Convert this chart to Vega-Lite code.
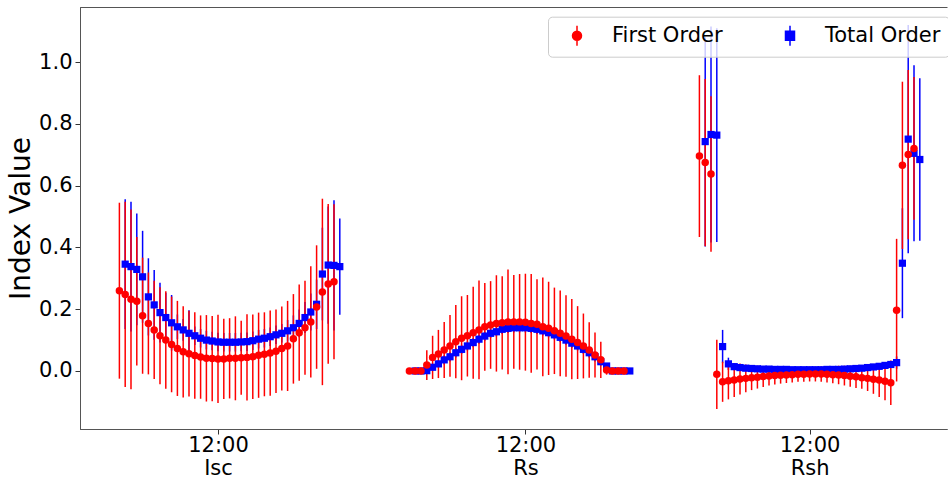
{
  "$schema": "https://vega.github.io/schema/vega-lite/v6.json",
  "width": 867,
  "height": 422,
  "autosize": {"type": "none"},
  "padding": {"left": 80, "top": 7, "right": 1, "bottom": 50},
  "background": "white",
  "config": {
    "font": "DejaVu Sans",
    "view": {"stroke": "#555", "strokeWidth": 1, "strokeDash": [867, 422, 3000]},
    "axis": {"domainColor": "#555", "domainWidth": 1, "tickColor": "#333", "labelColor": "#000", "titleColor": "#000", "labelFont": "DejaVu Sans", "titleFont": "DejaVu Sans", "grid": false, "labelFontSize": 21, "tickSize": 5}
  },
  "data": {
    "values": [
      {"group": "Isc", "series": "First Order", "t": 7.75, "v": 0.260, "err": 0.285},
      {"group": "Isc", "series": "First Order", "t": 8.00, "v": 0.248, "err": 0.300},
      {"group": "Isc", "series": "First Order", "t": 8.25, "v": 0.232, "err": 0.291},
      {"group": "Isc", "series": "First Order", "t": 8.50, "v": 0.226, "err": 0.208},
      {"group": "Isc", "series": "First Order", "t": 8.75, "v": 0.179, "err": 0.188},
      {"group": "Isc", "series": "First Order", "t": 9.00, "v": 0.154, "err": 0.165},
      {"group": "Isc", "series": "First Order", "t": 9.25, "v": 0.133, "err": 0.159},
      {"group": "Isc", "series": "First Order", "t": 9.50, "v": 0.114, "err": 0.157},
      {"group": "Isc", "series": "First Order", "t": 9.75, "v": 0.100, "err": 0.158},
      {"group": "Isc", "series": "First Order", "t": 10.00, "v": 0.086, "err": 0.155},
      {"group": "Isc", "series": "First Order", "t": 10.25, "v": 0.073, "err": 0.154},
      {"group": "Isc", "series": "First Order", "t": 10.50, "v": 0.062, "err": 0.148},
      {"group": "Isc", "series": "First Order", "t": 10.75, "v": 0.056, "err": 0.139},
      {"group": "Isc", "series": "First Order", "t": 11.00, "v": 0.050, "err": 0.140},
      {"group": "Isc", "series": "First Order", "t": 11.25, "v": 0.045, "err": 0.135},
      {"group": "Isc", "series": "First Order", "t": 11.50, "v": 0.041, "err": 0.140},
      {"group": "Isc", "series": "First Order", "t": 11.75, "v": 0.040, "err": 0.138},
      {"group": "Isc", "series": "First Order", "t": 12.00, "v": 0.039, "err": 0.143},
      {"group": "Isc", "series": "First Order", "t": 12.25, "v": 0.039, "err": 0.130},
      {"group": "Isc", "series": "First Order", "t": 12.50, "v": 0.041, "err": 0.130},
      {"group": "Isc", "series": "First Order", "t": 12.75, "v": 0.041, "err": 0.136},
      {"group": "Isc", "series": "First Order", "t": 13.00, "v": 0.043, "err": 0.120},
      {"group": "Isc", "series": "First Order", "t": 13.25, "v": 0.044, "err": 0.140},
      {"group": "Isc", "series": "First Order", "t": 13.50, "v": 0.046, "err": 0.137},
      {"group": "Isc", "series": "First Order", "t": 13.75, "v": 0.051, "err": 0.138},
      {"group": "Isc", "series": "First Order", "t": 14.00, "v": 0.054, "err": 0.136},
      {"group": "Isc", "series": "First Order", "t": 14.25, "v": 0.058, "err": 0.138},
      {"group": "Isc", "series": "First Order", "t": 14.50, "v": 0.064, "err": 0.135},
      {"group": "Isc", "series": "First Order", "t": 14.75, "v": 0.073, "err": 0.136},
      {"group": "Isc", "series": "First Order", "t": 15.00, "v": 0.081, "err": 0.146},
      {"group": "Isc", "series": "First Order", "t": 15.25, "v": 0.104, "err": 0.145},
      {"group": "Isc", "series": "First Order", "t": 15.50, "v": 0.124, "err": 0.156},
      {"group": "Isc", "series": "First Order", "t": 15.75, "v": 0.140, "err": 0.152},
      {"group": "Isc", "series": "First Order", "t": 16.00, "v": 0.159, "err": 0.180},
      {"group": "Isc", "series": "First Order", "t": 16.25, "v": 0.207, "err": 0.200},
      {"group": "Isc", "series": "First Order", "t": 16.50, "v": 0.256, "err": 0.302},
      {"group": "Isc", "series": "First Order", "t": 16.75, "v": 0.282, "err": 0.259},
      {"group": "Isc", "series": "First Order", "t": 17.00, "v": 0.289, "err": 0.251},
      {"group": "Isc", "series": "Total Order", "t": 8.00, "v": 0.346, "err": 0.210},
      {"group": "Isc", "series": "Total Order", "t": 8.25, "v": 0.338, "err": 0.210},
      {"group": "Isc", "series": "Total Order", "t": 8.50, "v": 0.329, "err": 0.181},
      {"group": "Isc", "series": "Total Order", "t": 8.75, "v": 0.305, "err": 0.149},
      {"group": "Isc", "series": "Total Order", "t": 9.00, "v": 0.240, "err": 0.125},
      {"group": "Isc", "series": "Total Order", "t": 9.25, "v": 0.214, "err": 0.113},
      {"group": "Isc", "series": "Total Order", "t": 9.50, "v": 0.189, "err": 0.097},
      {"group": "Isc", "series": "Total Order", "t": 9.75, "v": 0.173, "err": 0.080},
      {"group": "Isc", "series": "Total Order", "t": 10.00, "v": 0.156, "err": 0.090},
      {"group": "Isc", "series": "Total Order", "t": 10.25, "v": 0.143, "err": 0.040},
      {"group": "Isc", "series": "Total Order", "t": 10.50, "v": 0.133, "err": 0.035},
      {"group": "Isc", "series": "Total Order", "t": 10.75, "v": 0.122, "err": 0.075},
      {"group": "Isc", "series": "Total Order", "t": 11.00, "v": 0.114, "err": 0.030},
      {"group": "Isc", "series": "Total Order", "t": 11.25, "v": 0.106, "err": 0.030},
      {"group": "Isc", "series": "Total Order", "t": 11.50, "v": 0.100, "err": 0.030},
      {"group": "Isc", "series": "Total Order", "t": 11.75, "v": 0.097, "err": 0.030},
      {"group": "Isc", "series": "Total Order", "t": 12.00, "v": 0.094, "err": 0.030},
      {"group": "Isc", "series": "Total Order", "t": 12.25, "v": 0.093, "err": 0.030},
      {"group": "Isc", "series": "Total Order", "t": 12.50, "v": 0.093, "err": 0.030},
      {"group": "Isc", "series": "Total Order", "t": 12.75, "v": 0.093, "err": 0.030},
      {"group": "Isc", "series": "Total Order", "t": 13.00, "v": 0.094, "err": 0.030},
      {"group": "Isc", "series": "Total Order", "t": 13.25, "v": 0.095, "err": 0.030},
      {"group": "Isc", "series": "Total Order", "t": 13.50, "v": 0.098, "err": 0.030},
      {"group": "Isc", "series": "Total Order", "t": 13.75, "v": 0.103, "err": 0.030},
      {"group": "Isc", "series": "Total Order", "t": 14.00, "v": 0.106, "err": 0.030},
      {"group": "Isc", "series": "Total Order", "t": 14.25, "v": 0.111, "err": 0.030},
      {"group": "Isc", "series": "Total Order", "t": 14.50, "v": 0.117, "err": 0.030},
      {"group": "Isc", "series": "Total Order", "t": 14.75, "v": 0.122, "err": 0.030},
      {"group": "Isc", "series": "Total Order", "t": 15.00, "v": 0.130, "err": 0.035},
      {"group": "Isc", "series": "Total Order", "t": 15.25, "v": 0.140, "err": 0.040},
      {"group": "Isc", "series": "Total Order", "t": 15.50, "v": 0.154, "err": 0.045},
      {"group": "Isc", "series": "Total Order", "t": 15.75, "v": 0.173, "err": 0.050},
      {"group": "Isc", "series": "Total Order", "t": 16.00, "v": 0.191, "err": 0.060},
      {"group": "Isc", "series": "Total Order", "t": 16.25, "v": 0.216, "err": 0.080},
      {"group": "Isc", "series": "Total Order", "t": 16.50, "v": 0.314, "err": 0.150},
      {"group": "Isc", "series": "Total Order", "t": 16.75, "v": 0.343, "err": 0.190},
      {"group": "Isc", "series": "Total Order", "t": 17.00, "v": 0.342, "err": 0.211},
      {"group": "Isc", "series": "Total Order", "t": 17.25, "v": 0.338, "err": 0.156},
      {"group": "Rs", "series": "First Order", "t": 20.25, "v": 0.000, "err": 0.000},
      {"group": "Rs", "series": "First Order", "t": 20.50, "v": 0.000, "err": 0.000},
      {"group": "Rs", "series": "First Order", "t": 20.75, "v": 0.000, "err": 0.000},
      {"group": "Rs", "series": "First Order", "t": 21.00, "v": 0.019, "err": 0.048},
      {"group": "Rs", "series": "First Order", "t": 21.25, "v": 0.044, "err": 0.070},
      {"group": "Rs", "series": "First Order", "t": 21.50, "v": 0.055, "err": 0.078},
      {"group": "Rs", "series": "First Order", "t": 21.75, "v": 0.068, "err": 0.091},
      {"group": "Rs", "series": "First Order", "t": 22.00, "v": 0.081, "err": 0.100},
      {"group": "Rs", "series": "First Order", "t": 22.25, "v": 0.095, "err": 0.119},
      {"group": "Rs", "series": "First Order", "t": 22.50, "v": 0.106, "err": 0.136},
      {"group": "Rs", "series": "First Order", "t": 22.75, "v": 0.114, "err": 0.132},
      {"group": "Rs", "series": "First Order", "t": 23.00, "v": 0.124, "err": 0.149},
      {"group": "Rs", "series": "First Order", "t": 23.25, "v": 0.133, "err": 0.160},
      {"group": "Rs", "series": "First Order", "t": 23.50, "v": 0.143, "err": 0.142},
      {"group": "Rs", "series": "First Order", "t": 23.75, "v": 0.149, "err": 0.142},
      {"group": "Rs", "series": "First Order", "t": 24.00, "v": 0.154, "err": 0.156},
      {"group": "Rs", "series": "First Order", "t": 24.25, "v": 0.156, "err": 0.151},
      {"group": "Rs", "series": "First Order", "t": 24.50, "v": 0.159, "err": 0.170},
      {"group": "Rs", "series": "First Order", "t": 24.75, "v": 0.159, "err": 0.152},
      {"group": "Rs", "series": "First Order", "t": 25.00, "v": 0.159, "err": 0.155},
      {"group": "Rs", "series": "First Order", "t": 25.25, "v": 0.158, "err": 0.157},
      {"group": "Rs", "series": "First Order", "t": 25.50, "v": 0.154, "err": 0.160},
      {"group": "Rs", "series": "First Order", "t": 25.75, "v": 0.151, "err": 0.146},
      {"group": "Rs", "series": "First Order", "t": 26.00, "v": 0.143, "err": 0.160},
      {"group": "Rs", "series": "First Order", "t": 26.25, "v": 0.138, "err": 0.151},
      {"group": "Rs", "series": "First Order", "t": 26.50, "v": 0.130, "err": 0.140},
      {"group": "Rs", "series": "First Order", "t": 26.75, "v": 0.122, "err": 0.139},
      {"group": "Rs", "series": "First Order", "t": 27.00, "v": 0.113, "err": 0.132},
      {"group": "Rs", "series": "First Order", "t": 27.25, "v": 0.103, "err": 0.130},
      {"group": "Rs", "series": "First Order", "t": 27.50, "v": 0.092, "err": 0.118},
      {"group": "Rs", "series": "First Order", "t": 27.75, "v": 0.081, "err": 0.105},
      {"group": "Rs", "series": "First Order", "t": 28.00, "v": 0.068, "err": 0.090},
      {"group": "Rs", "series": "First Order", "t": 28.25, "v": 0.052, "err": 0.073},
      {"group": "Rs", "series": "First Order", "t": 28.50, "v": 0.036, "err": 0.059},
      {"group": "Rs", "series": "First Order", "t": 28.75, "v": 0.003, "err": 0.015},
      {"group": "Rs", "series": "First Order", "t": 29.00, "v": 0.000, "err": 0.000},
      {"group": "Rs", "series": "First Order", "t": 29.25, "v": 0.000, "err": 0.000},
      {"group": "Rs", "series": "First Order", "t": 29.50, "v": 0.000, "err": 0.000},
      {"group": "Rs", "series": "Total Order", "t": 20.50, "v": 0.000, "err": 0.000},
      {"group": "Rs", "series": "Total Order", "t": 20.75, "v": 0.000, "err": 0.000},
      {"group": "Rs", "series": "Total Order", "t": 21.00, "v": 0.001, "err": 0.005},
      {"group": "Rs", "series": "Total Order", "t": 21.25, "v": 0.012, "err": 0.010},
      {"group": "Rs", "series": "Total Order", "t": 21.50, "v": 0.023, "err": 0.012},
      {"group": "Rs", "series": "Total Order", "t": 21.75, "v": 0.036, "err": 0.015},
      {"group": "Rs", "series": "Total Order", "t": 22.00, "v": 0.046, "err": 0.015},
      {"group": "Rs", "series": "Total Order", "t": 22.25, "v": 0.059, "err": 0.015},
      {"group": "Rs", "series": "Total Order", "t": 22.50, "v": 0.070, "err": 0.015},
      {"group": "Rs", "series": "Total Order", "t": 22.75, "v": 0.081, "err": 0.015},
      {"group": "Rs", "series": "Total Order", "t": 23.00, "v": 0.092, "err": 0.015},
      {"group": "Rs", "series": "Total Order", "t": 23.25, "v": 0.103, "err": 0.015},
      {"group": "Rs", "series": "Total Order", "t": 23.50, "v": 0.113, "err": 0.015},
      {"group": "Rs", "series": "Total Order", "t": 23.75, "v": 0.122, "err": 0.015},
      {"group": "Rs", "series": "Total Order", "t": 24.00, "v": 0.127, "err": 0.015},
      {"group": "Rs", "series": "Total Order", "t": 24.25, "v": 0.135, "err": 0.015},
      {"group": "Rs", "series": "Total Order", "t": 24.50, "v": 0.138, "err": 0.015},
      {"group": "Rs", "series": "Total Order", "t": 24.75, "v": 0.140, "err": 0.015},
      {"group": "Rs", "series": "Total Order", "t": 25.00, "v": 0.140, "err": 0.015},
      {"group": "Rs", "series": "Total Order", "t": 25.25, "v": 0.140, "err": 0.015},
      {"group": "Rs", "series": "Total Order", "t": 25.50, "v": 0.138, "err": 0.015},
      {"group": "Rs", "series": "Total Order", "t": 25.75, "v": 0.135, "err": 0.015},
      {"group": "Rs", "series": "Total Order", "t": 26.00, "v": 0.130, "err": 0.015},
      {"group": "Rs", "series": "Total Order", "t": 26.25, "v": 0.124, "err": 0.015},
      {"group": "Rs", "series": "Total Order", "t": 26.50, "v": 0.117, "err": 0.015},
      {"group": "Rs", "series": "Total Order", "t": 26.75, "v": 0.109, "err": 0.015},
      {"group": "Rs", "series": "Total Order", "t": 27.00, "v": 0.100, "err": 0.015},
      {"group": "Rs", "series": "Total Order", "t": 27.25, "v": 0.090, "err": 0.015},
      {"group": "Rs", "series": "Total Order", "t": 27.50, "v": 0.081, "err": 0.015},
      {"group": "Rs", "series": "Total Order", "t": 27.75, "v": 0.070, "err": 0.015},
      {"group": "Rs", "series": "Total Order", "t": 28.00, "v": 0.059, "err": 0.015},
      {"group": "Rs", "series": "Total Order", "t": 28.25, "v": 0.046, "err": 0.015},
      {"group": "Rs", "series": "Total Order", "t": 28.50, "v": 0.030, "err": 0.012},
      {"group": "Rs", "series": "Total Order", "t": 28.75, "v": 0.016, "err": 0.005},
      {"group": "Rs", "series": "Total Order", "t": 29.00, "v": 0.000, "err": 0.000},
      {"group": "Rs", "series": "Total Order", "t": 29.25, "v": 0.000, "err": 0.000},
      {"group": "Rs", "series": "Total Order", "t": 29.50, "v": 0.000, "err": 0.000},
      {"group": "Rs", "series": "Total Order", "t": 29.75, "v": 0.000, "err": 0.000},
      {"group": "Rsh", "series": "First Order", "t": 32.75, "v": 0.696, "err": 0.262},
      {"group": "Rsh", "series": "First Order", "t": 33.00, "v": 0.675, "err": 0.271},
      {"group": "Rsh", "series": "First Order", "t": 33.25, "v": 0.638, "err": 0.252},
      {"group": "Rsh", "series": "First Order", "t": 33.50, "v": -0.011, "err": 0.112},
      {"group": "Rsh", "series": "First Order", "t": 33.75, "v": -0.035, "err": 0.065},
      {"group": "Rsh", "series": "First Order", "t": 34.00, "v": -0.032, "err": 0.060},
      {"group": "Rsh", "series": "First Order", "t": 34.25, "v": -0.029, "err": 0.055},
      {"group": "Rsh", "series": "First Order", "t": 34.50, "v": -0.026, "err": 0.050},
      {"group": "Rsh", "series": "First Order", "t": 34.75, "v": -0.024, "err": 0.045},
      {"group": "Rsh", "series": "First Order", "t": 35.00, "v": -0.022, "err": 0.040},
      {"group": "Rsh", "series": "First Order", "t": 35.25, "v": -0.020, "err": 0.037},
      {"group": "Rsh", "series": "First Order", "t": 35.50, "v": -0.018, "err": 0.034},
      {"group": "Rsh", "series": "First Order", "t": 35.75, "v": -0.016, "err": 0.031},
      {"group": "Rsh", "series": "First Order", "t": 36.00, "v": -0.015, "err": 0.029},
      {"group": "Rsh", "series": "First Order", "t": 36.25, "v": -0.014, "err": 0.027},
      {"group": "Rsh", "series": "First Order", "t": 36.50, "v": -0.013, "err": 0.026},
      {"group": "Rsh", "series": "First Order", "t": 36.75, "v": -0.012, "err": 0.025},
      {"group": "Rsh", "series": "First Order", "t": 37.00, "v": -0.011, "err": 0.024},
      {"group": "Rsh", "series": "First Order", "t": 37.25, "v": -0.011, "err": 0.024},
      {"group": "Rsh", "series": "First Order", "t": 37.50, "v": -0.010, "err": 0.024},
      {"group": "Rsh", "series": "First Order", "t": 37.75, "v": -0.010, "err": 0.024},
      {"group": "Rsh", "series": "First Order", "t": 38.00, "v": -0.010, "err": 0.025},
      {"group": "Rsh", "series": "First Order", "t": 38.25, "v": -0.011, "err": 0.026},
      {"group": "Rsh", "series": "First Order", "t": 38.50, "v": -0.012, "err": 0.028},
      {"group": "Rsh", "series": "First Order", "t": 38.75, "v": -0.013, "err": 0.030},
      {"group": "Rsh", "series": "First Order", "t": 39.00, "v": -0.015, "err": 0.032},
      {"group": "Rsh", "series": "First Order", "t": 39.25, "v": -0.017, "err": 0.034},
      {"group": "Rsh", "series": "First Order", "t": 39.50, "v": -0.019, "err": 0.036},
      {"group": "Rsh", "series": "First Order", "t": 39.75, "v": -0.022, "err": 0.036},
      {"group": "Rsh", "series": "First Order", "t": 40.00, "v": -0.024, "err": 0.041},
      {"group": "Rsh", "series": "First Order", "t": 40.25, "v": -0.027, "err": 0.047},
      {"group": "Rsh", "series": "First Order", "t": 40.50, "v": -0.029, "err": 0.055},
      {"group": "Rsh", "series": "First Order", "t": 40.75, "v": -0.033, "err": 0.062},
      {"group": "Rsh", "series": "First Order", "t": 41.00, "v": -0.038, "err": 0.072},
      {"group": "Rsh", "series": "First Order", "t": 41.25, "v": 0.197, "err": 0.231},
      {"group": "Rsh", "series": "First Order", "t": 41.50, "v": 0.666, "err": 0.271},
      {"group": "Rsh", "series": "First Order", "t": 41.75, "v": 0.701, "err": 0.274},
      {"group": "Rsh", "series": "First Order", "t": 42.00, "v": 0.721, "err": 0.231},
      {"group": "Rsh", "series": "Total Order", "t": 33.00, "v": 0.743, "err": 0.340},
      {"group": "Rsh", "series": "Total Order", "t": 33.25, "v": 0.766, "err": 0.350},
      {"group": "Rsh", "series": "Total Order", "t": 33.50, "v": 0.764, "err": 0.346},
      {"group": "Rsh", "series": "Total Order", "t": 33.75, "v": 0.079, "err": 0.054},
      {"group": "Rsh", "series": "Total Order", "t": 34.00, "v": 0.023, "err": 0.020},
      {"group": "Rsh", "series": "Total Order", "t": 34.25, "v": 0.014, "err": 0.012},
      {"group": "Rsh", "series": "Total Order", "t": 34.50, "v": 0.011, "err": 0.010},
      {"group": "Rsh", "series": "Total Order", "t": 34.75, "v": 0.009, "err": 0.010},
      {"group": "Rsh", "series": "Total Order", "t": 35.00, "v": 0.008, "err": 0.008},
      {"group": "Rsh", "series": "Total Order", "t": 35.25, "v": 0.007, "err": 0.008},
      {"group": "Rsh", "series": "Total Order", "t": 35.50, "v": 0.006, "err": 0.006},
      {"group": "Rsh", "series": "Total Order", "t": 35.75, "v": 0.006, "err": 0.006},
      {"group": "Rsh", "series": "Total Order", "t": 36.00, "v": 0.005, "err": 0.006},
      {"group": "Rsh", "series": "Total Order", "t": 36.25, "v": 0.005, "err": 0.006},
      {"group": "Rsh", "series": "Total Order", "t": 36.50, "v": 0.005, "err": 0.006},
      {"group": "Rsh", "series": "Total Order", "t": 36.75, "v": 0.004, "err": 0.006},
      {"group": "Rsh", "series": "Total Order", "t": 37.00, "v": 0.004, "err": 0.006},
      {"group": "Rsh", "series": "Total Order", "t": 37.25, "v": 0.004, "err": 0.006},
      {"group": "Rsh", "series": "Total Order", "t": 37.50, "v": 0.004, "err": 0.006},
      {"group": "Rsh", "series": "Total Order", "t": 37.75, "v": 0.004, "err": 0.006},
      {"group": "Rsh", "series": "Total Order", "t": 38.00, "v": 0.004, "err": 0.006},
      {"group": "Rsh", "series": "Total Order", "t": 38.25, "v": 0.005, "err": 0.006},
      {"group": "Rsh", "series": "Total Order", "t": 38.50, "v": 0.005, "err": 0.006},
      {"group": "Rsh", "series": "Total Order", "t": 38.75, "v": 0.005, "err": 0.006},
      {"group": "Rsh", "series": "Total Order", "t": 39.00, "v": 0.006, "err": 0.006},
      {"group": "Rsh", "series": "Total Order", "t": 39.25, "v": 0.007, "err": 0.006},
      {"group": "Rsh", "series": "Total Order", "t": 39.50, "v": 0.008, "err": 0.006},
      {"group": "Rsh", "series": "Total Order", "t": 39.75, "v": 0.009, "err": 0.006},
      {"group": "Rsh", "series": "Total Order", "t": 40.00, "v": 0.011, "err": 0.008},
      {"group": "Rsh", "series": "Total Order", "t": 40.25, "v": 0.013, "err": 0.008},
      {"group": "Rsh", "series": "Total Order", "t": 40.50, "v": 0.015, "err": 0.008},
      {"group": "Rsh", "series": "Total Order", "t": 40.75, "v": 0.018, "err": 0.008},
      {"group": "Rsh", "series": "Total Order", "t": 41.00, "v": 0.021, "err": 0.008},
      {"group": "Rsh", "series": "Total Order", "t": 41.25, "v": 0.027, "err": 0.020},
      {"group": "Rsh", "series": "Total Order", "t": 41.50, "v": 0.349, "err": 0.178},
      {"group": "Rsh", "series": "Total Order", "t": 41.75, "v": 0.751, "err": 0.370},
      {"group": "Rsh", "series": "Total Order", "t": 42.00, "v": 0.705, "err": 0.285},
      {"group": "Rsh", "series": "Total Order", "t": 42.25, "v": 0.685, "err": 0.263}
    ]
  },
  "encoding": {
    "x": {
      "field": "t",
      "type": "quantitative",
      "scale": {"domain": [6.052, 43.422], "nice": false, "zero": false},
      "axis": {
        "values": [12, 25.25, 37.5],
        "labelExpr": "datum.value == 12 ? ['12:00', 'Isc'] : datum.value == 25.25 ? ['12:00', 'Rs'] : ['12:00', 'Rsh']",
        "title": null,
        "labelPadding": 0,
        "labelLineHeight": 23,
        "labelBaseline": "top",
        "labelFlush": false,
        "labelOverlap": false
      }
    },
    "y": {
      "field": "v",
      "type": "quantitative",
      "scale": {"domain": [-0.188, 1.179], "nice": false, "zero": false},
      "axis": {
        "values": [0, 0.2, 0.4, 0.6, 0.8, 1.0],
        "format": ".1f",
        "title": "Index Value",
        "titleFontSize": 28,
        "titleFontWeight": "normal",
        "titlePadding": 3,
        "labelPadding": 3,
        "labelFlush": false,
        "labelOverlap": false
      }
    }
  },
  "layer": [
    {
      "transform": [{"filter": "datum.series == 'Total Order'"}],
      "mark": {"type": "errorbar", "color": "#0000ff", "thickness": 1.5},
      "encoding": {"yError": {"field": "err"}}
    },
    {
      "transform": [{"filter": "datum.series == 'First Order'"}],
      "mark": {"type": "errorbar", "color": "#ff0000", "thickness": 1.5},
      "encoding": {"yError": {"field": "err"}}
    },
    {
      "transform": [{"filter": "datum.series == 'Total Order'"}],
      "mark": {"type": "point", "shape": "square", "filled": true, "color": "#0000ff", "size": 52, "opacity": 1}
    },
    {
      "transform": [{"filter": "datum.series == 'First Order'"}],
      "mark": {"type": "point", "shape": "circle", "filled": true, "color": "#ff0000", "size": 56, "opacity": 1}
    },
    {
      "mark": {"type": "point", "filled": true, "opacity": 0},
      "encoding": {
        "color": {
          "field": "series",
          "type": "nominal",
          "scale": {"domain": ["First Order", "Total Order"], "range": ["#ff0000", "#0000ff"]},
          "legend": {
            "title": null,
            "orient": "none",
            "legendX": 468,
            "legendY": 9.7,
            "direction": "horizontal",
            "columns": 2,
            "columnPadding": 46,
            "padding": 8,
            "symbolSize": 400,
            "symbolOffset": 10,
            "labelOffset": 24,
            "labelFontSize": 21,
            "labelFont": "DejaVu Sans",
            "labelColor": "#000",
            "fillColor": "rgba(255,255,255,0.8)",
            "strokeColor": "#cccccc",
            "cornerRadius": 4,
            "symbolStrokeWidth": 1.5,
            "encode": {"symbols": {"update": {"opacity": {"value": 1}, "stroke": {"scale": "color", "field": "value"}, "strokeWidth": {"value": 1.5}}}}
          }
        },
        "shape": {
          "field": "series",
          "type": "nominal",
          "scale": {"domain": ["First Order", "Total Order"], "range": ["M-0.45,0A0.45,0.45,0,1,1,0.45,0A0.45,0.45,0,1,1,-0.45,0ZM0,-1L0,1", "M-0.45,-0.45L0.45,-0.45L0.45,0.45L-0.45,0.45ZM0,-1L0,1"]},
          "legend": {
            "title": null,
            "orient": "none",
            "legendX": 468,
            "legendY": 9.7,
            "direction": "horizontal",
            "columns": 2,
            "columnPadding": 46,
            "padding": 8,
            "symbolSize": 400,
            "symbolOffset": 10,
            "labelOffset": 24,
            "labelFontSize": 21,
            "labelFont": "DejaVu Sans",
            "labelColor": "#000",
            "fillColor": "rgba(255,255,255,0.8)",
            "strokeColor": "#cccccc",
            "cornerRadius": 4,
            "symbolStrokeWidth": 1.5,
            "encode": {"symbols": {"update": {"opacity": {"value": 1}, "stroke": {"scale": "color", "field": "value"}, "strokeWidth": {"value": 1.5}}}}
          }
        }
      }
    }
  ]
}
